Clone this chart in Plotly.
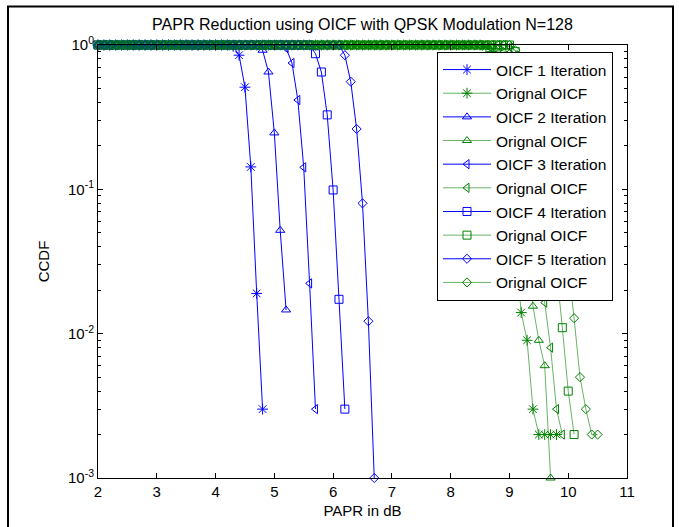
import plotly.graph_objects as go

# PAPR grid (dB), 0.1 dB steps
papr_db = [
    2.0, 2.1, 2.2, 2.3, 2.4, 2.5, 2.6, 2.7, 2.8, 2.9,
    3.0, 3.1, 3.2, 3.3, 3.4, 3.5, 3.6, 3.7, 3.8, 3.9,
    4.0, 4.1, 4.2, 4.3, 4.4, 4.5, 4.6, 4.7, 4.8, 4.9,
    5.0, 5.1, 5.2, 5.3, 5.4, 5.5, 5.6, 5.7, 5.8, 5.9,
    6.0, 6.1, 6.2, 6.3, 6.4, 6.5, 6.6, 6.7, 6.8, 6.9,
    7.0, 7.1, 7.2, 7.3, 7.4, 7.5, 7.6, 7.7, 7.8, 7.9,
    8.0, 8.1, 8.2, 8.3, 8.4, 8.5, 8.6, 8.7, 8.8, 8.9,
    9.0, 9.1, 9.2, 9.3, 9.4, 9.5, 9.6, 9.7, 9.8, 9.9,
    10.0, 10.1, 10.2, 10.3, 10.4, 10.5,
]

oicf_1_iter = [
    1, 1, 1, 1, 1, 1, 1, 1, 1, 1,            # 2.x
    1, 1, 1, 1, 1, 1, 1, 1, 1, 1,            # 3.x
    1, 1, 1, 0.98, 0.85, 0.51, 0.143, 0.019, 0.003,  # 4.0-4.8
]
orig_1 = [
    1, 1, 1, 1, 1, 1, 1, 1, 1, 1,            # 2.x
    1, 1, 1, 1, 1, 1, 1, 1, 1, 1,            # 3.x
    1, 1, 1, 1, 1, 1, 1, 1, 1, 1,            # 4.x
    1, 1, 1, 1, 1, 1, 1, 1, 1, 1,            # 5.x
    1, 1, 1, 1, 1, 1, 1, 1, 1, 1,            # 6.x
    1, 1, 1, 1, 1, 1, 1, 1, 1, 1,            # 7.x
    1, 1, 1, 1, 1, 1, 0.97, 0.9, 0.7, 0.4,   # 8.x
    0.15, 0.04, 0.014, 0.009, 0.003, 0.002, 0.002, 0.002, 0.002,  # 9.0-9.8
]
oicf_2_iter = [
    1, 1, 1, 1, 1, 1, 1, 1, 1, 1,            # 2.x
    1, 1, 1, 1, 1, 1, 1, 1, 1, 1,            # 3.x
    1, 1, 1, 1, 1, 1, 1, 1, 0.92, 0.65,      # 4.x
    0.246, 0.052, 0.0146,                    # 5.0-5.2
]
orig_2 = [
    1, 1, 1, 1, 1, 1, 1, 1, 1, 1,            # 2.x
    1, 1, 1, 1, 1, 1, 1, 1, 1, 1,            # 3.x
    1, 1, 1, 1, 1, 1, 1, 1, 1, 1,            # 4.x
    1, 1, 1, 1, 1, 1, 1, 1, 1, 1,            # 5.x
    1, 1, 1, 1, 1, 1, 1, 1, 1, 1,            # 6.x
    1, 1, 1, 1, 1, 1, 1, 1, 1, 1,            # 7.x
    1, 1, 1, 1, 1, 1, 1, 0.97, 0.94, 0.9,    # 8.x
    0.88, 0.55, 0.15, 0.04, 0.0155, 0.009, 0.006, 0.001,  # 9.0-9.7
]
oicf_3_iter = [
    1, 1, 1, 1, 1, 1, 1, 1, 1, 1,            # 2.x
    1, 1, 1, 1, 1, 1, 1, 1, 1, 1,            # 3.x
    1, 1, 1, 1, 1, 1, 1, 1, 1, 1,            # 4.x
    1, 1, 0.95, 0.75, 0.416, 0.142, 0.0223, 0.003,  # 5.0-5.7
]
orig_3 = [
    1, 1, 1, 1, 1, 1, 1, 1, 1, 1,            # 2.x
    1, 1, 1, 1, 1, 1, 1, 1, 1, 1,            # 3.x
    1, 1, 1, 1, 1, 1, 1, 1, 1, 1,            # 4.x
    1, 1, 1, 1, 1, 1, 1, 1, 1, 1,            # 5.x
    1, 1, 1, 1, 1, 1, 1, 1, 1, 1,            # 6.x
    1, 1, 1, 1, 1, 1, 1, 1, 1, 1,            # 7.x
    1, 1, 1, 1, 1, 1, 1, 1, 1, 1,            # 8.x
    0.97, 0.85, 0.6, 0.3, 0.12, 0.04, 0.0164, 0.008, 0.003, 0.002,  # 9.x
]
oicf_4_iter = [
    1, 1, 1, 1, 1, 1, 1, 1, 1, 1,            # 2.x
    1, 1, 1, 1, 1, 1, 1, 1, 1, 1,            # 3.x
    1, 1, 1, 1, 1, 1, 1, 1, 1, 1,            # 4.x
    1, 1, 1, 1, 1, 1, 1, 0.87, 0.65, 0.328,  # 5.x
    0.099, 0.0173, 0.003,                    # 6.0-6.2
]
orig_4 = [
    1, 1, 1, 1, 1, 1, 1, 1, 1, 1,            # 2.x
    1, 1, 1, 1, 1, 1, 1, 1, 1, 1,            # 3.x
    1, 1, 1, 1, 1, 1, 1, 1, 1, 1,            # 4.x
    1, 1, 1, 1, 1, 1, 1, 1, 1, 1,            # 5.x
    1, 1, 1, 1, 1, 1, 1, 1, 1, 1,            # 6.x
    1, 1, 1, 1, 1, 1, 1, 1, 1, 1,            # 7.x
    1, 1, 1, 1, 1, 1, 1, 1, 1, 1,            # 8.x
    1, 0.9, 0.7, 0.45, 0.22, 0.1, 0.06, 0.04, 0.028, 0.011,  # 9.x
    0.004, 0.002,                            # 10.0-10.1
]
oicf_5_iter = [
    1, 1, 1, 1, 1, 1, 1, 1, 1, 1,            # 2.x
    1, 1, 1, 1, 1, 1, 1, 1, 1, 1,            # 3.x
    1, 1, 1, 1, 1, 1, 1, 1, 1, 1,            # 4.x
    1, 1, 1, 1, 1, 1, 1, 1, 1, 1,            # 5.x
    1, 1, 0.85, 0.557, 0.262, 0.08, 0.0122, 0.001,  # 6.0-6.7
]
orig_5 = [
    1, 1, 1, 1, 1, 1, 1, 1, 1, 1,            # 2.x
    1, 1, 1, 1, 1, 1, 1, 1, 1, 1,            # 3.x
    1, 1, 1, 1, 1, 1, 1, 1, 1, 1,            # 4.x
    1, 1, 1, 1, 1, 1, 1, 1, 1, 1,            # 5.x
    1, 1, 1, 1, 1, 1, 1, 1, 1, 1,            # 6.x
    1, 1, 1, 1, 1, 1, 1, 1, 1, 1,            # 7.x
    1, 1, 1, 1, 1, 1, 1, 1, 1, 1,            # 8.x
    1, 0.92, 0.75, 0.55, 0.35, 0.2, 0.11, 0.07, 0.05, 0.04,  # 9.x
    0.03, 0.0128, 0.005, 0.003, 0.002, 0.002,  # 10.0-10.5
]

series = [
    ("OICF 1 Iteration", oicf_1_iter, "blue", "asterisk-open"),
    ("Orignal OICF", orig_1, "green", "asterisk-open"),
    ("OICF 2 Iteration", oicf_2_iter, "blue", "triangle-up-open"),
    ("Orignal OICF", orig_2, "green", "triangle-up-open"),
    ("OICF 3 Iteration", oicf_3_iter, "blue", "triangle-left-open"),
    ("Orignal OICF", orig_3, "green", "triangle-left-open"),
    ("OICF 4 Iteration", oicf_4_iter, "blue", "square-open"),
    ("Orignal OICF", orig_4, "green", "square-open"),
    ("OICF 5 Iteration", oicf_5_iter, "blue", "diamond-open"),
    ("Orignal OICF", orig_5, "green", "diamond-open"),
]

y_tickvals = [0.001, 0.01, 0.1, 1]
y_ticktext = ["10<sup>-3</sup>", "10<sup>-2</sup>", "10<sup>-1</sup>", "10<sup>0</sup>"]
x_tickvals = [2, 3, 4, 5, 6, 7, 8, 9, 10, 11]

BLUE = "#0000FF"
GREEN = "#008000"
sizes = {"asterisk-open": 9, "triangle-up-open": 8, "triangle-left-open": 8,
         "square-open": 8, "diamond-open": 7}

fig = go.Figure()
for i, (name, vals, col, sym) in enumerate(series):
    c = BLUE if col == "blue" else GREEN
    lw = 1 if col == "blue" else 0.6
    fig.add_trace(go.Scatter(
        x=papr_db[:len(vals)], y=vals, mode="lines+markers", name=name,
        legendgroup="g%d" % i,
        line=dict(color=c, width=lw),
        marker=dict(symbol=sym, size=sizes[sym], color=c, line=dict(color=c, width=1)),
        cliponaxis=False,
    ))

minor_vals = [m * 10.0 ** e for e in (-3, -2, -1) for m in range(2, 10)]

L, R, T, B = 98, 627, 45, 478
W, H = 679, 527
pw, ph = R - L, B - T

fig.update_layout(
    width=W, height=H,
    margin=dict(l=L, r=W - R, t=T, b=H - B, autoexpand=False),
    paper_bgcolor="white", plot_bgcolor="white",
    font=dict(family="Liberation Sans, Arial", size=14, color="black"),
    title=dict(text="PAPR Reduction using OICF with QPSK Modulation N=128",
               x=0.5, xref="paper", xanchor="center",
               y=1 - 24 / H, yref="container", yanchor="middle",
               font=dict(size=16, color="black")),
    showlegend=True,
    legend=dict(x=(437 - L) / pw, y=(B - 52) / ph, xanchor="left", yanchor="top",
                bgcolor="white", bordercolor="black", borderwidth=1,
                itemwidth=48,
                font=dict(size=15.5), tracegroupgap=0.5, traceorder="grouped"),
    xaxis=dict(range=[2, 11], tickmode="array", tickvals=x_tickvals,
               ticks="inside", ticklen=5, tickcolor="black",
               showline=True, linecolor="black", linewidth=1, mirror="allticks",
               showgrid=False, zeroline=False, automargin=False,
               tickfont=dict(size=15),
               title=dict(text="PAPR in dB", standoff=6, font=dict(size=15))),
    yaxis=dict(type="log", range=[-3, 0], tickmode="array",
               tickvals=y_tickvals, ticktext=y_ticktext,
               ticks="inside", ticklen=5, tickcolor="black",
               minor=dict(ticks="inside", ticklen=3, tickcolor="black",
                          tickmode="array", tickvals=minor_vals, showgrid=False),
               showline=True, linecolor="black", linewidth=1, mirror="allticks",
               showgrid=False, zeroline=False, automargin=False,
               tickfont=dict(size=15),
               title=dict(text="CCDF", standoff=14, font=dict(size=15))),
    shapes=[dict(type="rect", xref="paper", yref="paper",
                 x0=(8 - L) / pw, x1=(673 - L) / pw,
                 y0=(B - 540) / ph, y1=(B - 6.5) / ph,
                 line=dict(color="black", width=2), fillcolor="rgba(0,0,0,0)",
                 layer="above")],
)

fig.write_html("out.html",
               config={"displayModeBar": False},
               post_script="document.body.style.margin='0';document.body.style.overflow='hidden';")
